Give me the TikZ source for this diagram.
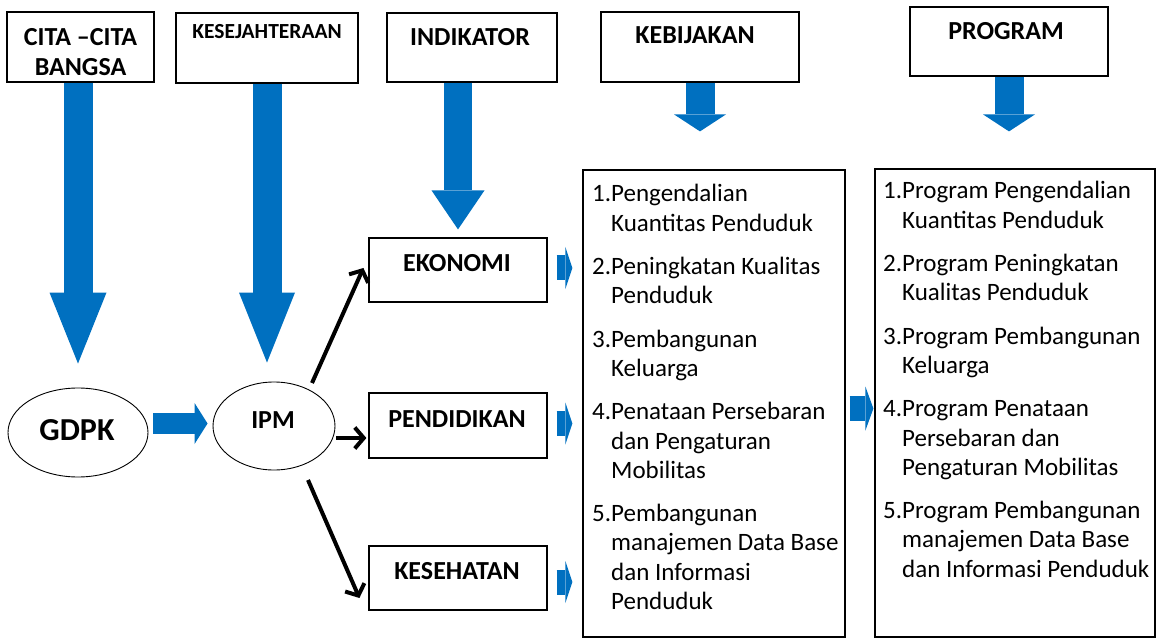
\documentclass[tikz,border=0pt]{standalone}
\usepackage{fontspec}
\setmainfont{Carlito}
\usetikzlibrary{arrows.meta,calc,shapes.geometric}
\definecolor{blueA}{HTML}{0070C0}
\tikzset{
  box/.style={draw=black, line width=1.2pt, rectangle, inner sep=0pt},
  oval/.style={draw=black, line width=0.9pt, ellipse, inner sep=0pt},
  hdr/.style={inner sep=0pt, anchor=base, font=\fontsize{26}{30}\selectfont\bfseries},
  lst/.style={inner sep=0pt, anchor=base west, font=\fontsize{25}{29.3}\selectfont},
  barrow/.style n args={3}{draw=blueA, line width=#1, line cap=butt,
     -{Triangle[width=#2, length=#3, line width=0pt]}},
  blk/.style={draw=black, line width=4pt, -{Straight Barb[length=9pt, width=21pt]}}
}
\begin{document}
\begin{tikzpicture}[x=1pt,y=-1pt]
\fill[white] (0,0) rectangle (1157,639);
\useasboundingbox (0,0) rectangle (1157,639);

% header boxes
\node[box, minimum width=147, minimum height=70] (cita) at (80.5,47) {};
\node[hdr] (citaT) at (80.5,46) {\vtop{\baselineskip=30pt\halign{\hfil#\hfil\cr CITA –CITA\cr BANGSA\cr}}};
\node[box, minimum width=182, minimum height=70] (kesj) at (267,48) {};
\node[hdr, font=\fontsize{21.5}{26}\selectfont\bfseries] (kesjT) at (267,39) {KESEJAHTERAAN};
\node[box, minimum width=170, minimum height=69] (ind) at (472,47.5) {};
\node[hdr] (indT) at (470,46) {INDIKATOR};
\node[box, minimum width=198, minimum height=70] (kebH) at (700,47) {};
\node[hdr] (kebHT) at (695,44) {KEBIJAKAN};
\node[box, minimum width=198, minimum height=69] (progH) at (1009,41.5) {};
\node[hdr] (progHT) at (1006,40) {PROGRAM};

% ellipses
\node[oval, minimum width=140, minimum height=89] (gdpk) at (78,432.5) {};
\node[hdr, font=\fontsize{32}{36}\selectfont\bfseries] (gdpkT) at (77,440) {GDPK};
\node[oval, minimum width=122, minimum height=88] (ipm) at (274,426) {};
\node[hdr] (ipmT) at (273,428) {IPM};

% indicator boxes
\node[box, minimum width=178, minimum height=64] (eko) at (458,270) {};
\node[hdr] (ekoT) at (457,272) {EKONOMI};
\node[box, minimum width=178, minimum height=65] (pend) at (458,425.5) {};
\node[hdr] (pendT) at (457,427) {PENDIDIKAN};
\node[box, minimum width=178, minimum height=64] (kes) at (458,578) {};
\node[hdr] (kesT) at (457,579) {KESEHATAN};

% list boxes
\node[box, minimum width=262, minimum height=467] (kebL) at (714,403.5) {};
\node[lst] (kebLT) at (592,202) {\vtop{\baselineskip=29.3pt
\hbox{1.Pengendalian}
\hbox{\phantom{1.}Kuantitas Penduduk}
\vskip14pt
\hbox{2.Peningkatan Kualitas}
\hbox{\phantom{2.}Penduduk}
\vskip14pt
\hbox{3.Pembangunan}
\hbox{\phantom{3.}Keluarga}
\vskip14pt
\hbox{4.Penataan Persebaran}
\hbox{\phantom{4.}dan Pengaturan}
\hbox{\phantom{4.}Mobilitas}
\vskip14pt
\hbox{5.Pembangunan}
\hbox{\phantom{5.}manajemen Data Base}
\hbox{\phantom{5.}dan Informasi}
\hbox{\phantom{5.}Penduduk}}};

\node[box, minimum width=280, minimum height=468] (progL) at (1015,403) {};
\node[lst] (progLT) at (883,199) {\vtop{\baselineskip=29.3pt
\hbox{1.Program Pengendalian}
\hbox{\phantom{1.}Kuantitas Penduduk}
\vskip14pt
\hbox{2.Program Peningkatan}
\hbox{\phantom{2.}Kualitas Penduduk}
\vskip14pt
\hbox{3.Program Pembangunan}
\hbox{\phantom{3.}Keluarga}
\vskip14pt
\hbox{4.Program Penataan}
\hbox{\phantom{4.}Persebaran dan}
\hbox{\phantom{4.}Pengaturan Mobilitas}
\vskip14pt
\hbox{5.Program Pembangunan}
\hbox{\phantom{5.}manajemen Data Base}
\hbox{\phantom{5.}dan Informasi Penduduk}}};

% big blue arrows
\draw[barrow={29pt}{57pt}{71pt}, shorten >=24pt] (gdpk.north |- cita.south) -- (gdpk.north);
\draw[barrow={29pt}{56pt}{70pt}, shorten >=19pt] (kesj.south) -- (kesj.south |- ipm.north);
\draw[barrow={28pt}{53pt}{39pt}, shorten >=8pt] (eko.north |- ind.south) -- (eko.north);
\draw[barrow={29pt}{52pt}{17pt}, shorten >=38pt] (kebH.south) -- (kebH.south |- kebL.north);
\draw[barrow={29pt}{52pt}{17pt}, shorten >=37pt] (progH.south) -- (progH.south |- progL.north);

% GDPK -> IPM
\coordinate (g1) at ($(gdpk.east)+(5,-9)$);
\draw[barrow={21pt}{41pt}{13pt}, shorten >=5pt] (g1) -- (g1 -| ipm.west);

% small blue arrows to list
\coordinate (s1) at ($(eko.east)+(9,-2)$);
\coordinate (s2) at ($(pend.east)+(9,-2)$);
\coordinate (s3) at ($(kes.east)+(9,4)$);
\draw[barrow={25pt}{42pt}{7pt}, shorten >=10pt] (s1) -- (s1 -| kebL.west);
\draw[barrow={25pt}{42pt}{7pt}, shorten >=10pt] (s2) -- (s2 -| kebL.west);
\draw[barrow={25pt}{42pt}{7pt}, shorten >=10pt] (s3) -- (s3 -| kebL.west);

% list -> list
\coordinate (m1) at ($(kebL.east)+(4,5)$);
\draw[barrow={25pt}{44pt}{8pt}, shorten >=1pt] (m1) -- (m1 -| progL.west);

% black arrows from IPM
\draw[blk] ($(ipm.center)+(38,-43)$) -- ($(eko.west)+(-5,-2)$);
\draw[blk] ($(ipm.east)+(1,12)$) -- ($(pend.west)+(-2,12.5)$);
\draw[blk] ($(ipm.center)+(34,54)$) -- ($(kes.west)+(-9,20)$);
\end{tikzpicture}
\end{document}
